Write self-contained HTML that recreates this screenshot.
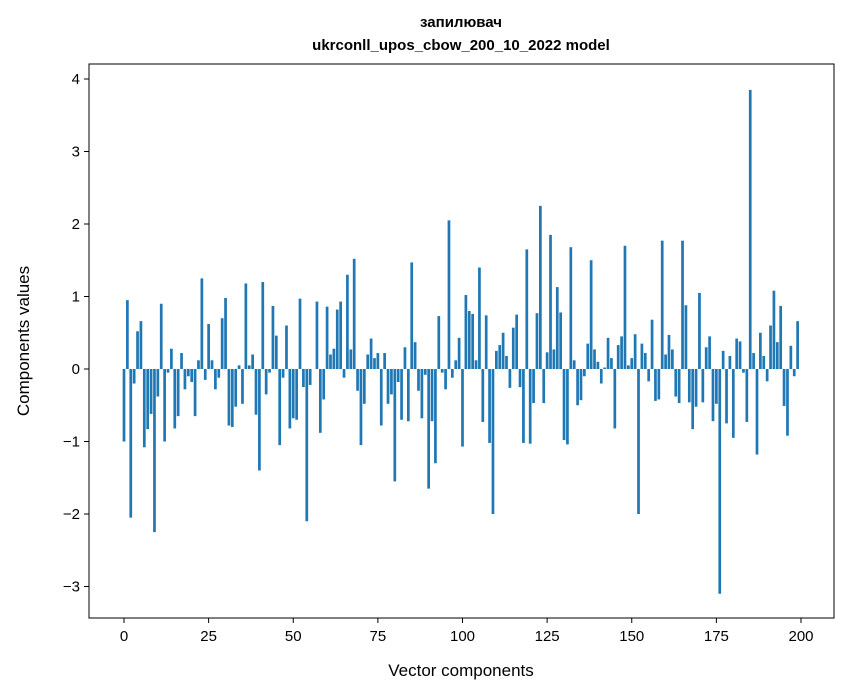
<!DOCTYPE html>
<html><head><meta charset="utf-8"><style>
body{margin:0;background:#fff}
svg{display:block;font-family:"Liberation Sans","DejaVu Sans",sans-serif}
</style></head><body>
<svg id="chart" width="847" height="696">
<text x="461" y="27" text-anchor="middle" font-size="15" font-weight="bold">запилювач</text>
<text x="461" y="50" text-anchor="middle" font-size="15" font-weight="bold">ukrconll_upos_cbow_200_10_2022 model</text>
<g id="bars"></g>
<rect x="89" y="64" width="745" height="554" fill="none" stroke="#000" stroke-width="1"/>
<g id="xt"></g>
<g id="yt"></g>
<text x="461" y="676" text-anchor="middle" font-size="17">Vector components</text>
<text transform="translate(29,341) rotate(-90)" text-anchor="middle" font-size="17">Components values</text>
</svg>
<script>
const values=[-1.0,0.95,-2.05,-0.2,0.52,0.66,-1.08,-0.83,-0.62,-2.25,-0.38,0.9,-1.0,-0.05,0.28,-0.82,-0.65,0.22,-0.28,-0.1,
-0.18,-0.65,0.12,1.25,-0.15,0.62,0.12,-0.28,-0.12,0.7,0.98,-0.78,-0.8,-0.52,0.05,-0.48,1.18,0.05,0.2,-0.63,
-1.4,1.2,-0.35,-0.05,0.87,0.46,-1.05,-0.12,0.6,-0.82,-0.68,-0.7,0.97,-0.25,-2.1,-0.22,0.0,0.93,-0.88,-0.42,
0.86,0.2,0.28,0.82,0.93,-0.12,1.3,0.27,1.52,-0.3,-1.05,-0.48,0.2,0.42,0.15,0.22,-0.78,0.22,-0.48,-0.35,
-1.55,-0.18,-0.7,0.3,-0.72,1.47,0.37,-0.3,-0.68,-0.08,-1.65,-0.72,-1.3,0.73,-0.05,-0.28,2.05,-0.12,0.12,0.43,
-1.07,1.02,0.8,0.76,0.12,1.4,-0.73,0.74,-1.02,-2.0,0.25,0.33,0.5,0.18,-0.26,0.57,0.75,-0.25,-1.02,1.65,
-1.03,-0.47,0.77,2.25,-0.47,0.23,1.85,0.27,1.13,0.78,-0.98,-1.04,1.68,0.12,-0.5,-0.43,-0.1,0.35,1.5,0.27,
0.1,-0.2,0.02,0.43,0.15,-0.82,0.33,0.45,1.7,0.05,0.15,0.48,-2.0,0.35,0.22,-0.17,0.68,-0.44,-0.42,1.77,
0.2,0.47,0.27,-0.38,-0.47,1.77,0.88,-0.46,-0.83,-0.52,1.05,-0.46,0.3,0.45,-0.72,-0.48,-3.1,0.25,-0.75,0.18,
-0.95,0.42,0.38,-0.05,-0.73,3.85,0.22,-1.18,0.5,0.18,-0.17,0.6,1.08,0.37,0.87,-0.51,-0.92,0.32,-0.1,0.66];
const xTicks=[0,25,50,75,100,125,150,175,200];
const yTicks=[-3,-2,-1,0,1,2,3,4];
const yLabels=["−3","−2","−1","0","1","2","3","4"];
const NS="http://www.w3.org/2000/svg";
function xs(v){return 124+v*(677/200);}
function ys(v){return 369-v*72.5;}
const bw=0.8*677/200;
const bars=document.getElementById('bars');
values.forEach((v,i)=>{
  const r=document.createElementNS(NS,'rect');
  
  
  r.setAttribute('x',xs(i)-bw/2);
  r.setAttribute('y',Math.min(ys(v),ys(0)));
  r.setAttribute('width',bw);
  r.setAttribute('height',Math.abs(ys(v)-ys(0)));
  r.setAttribute('fill','#1f77b4');
  bars.appendChild(r);
});
const xt=document.getElementById('xt');
xTicks.forEach(t=>{
  const l=document.createElementNS(NS,'line');
  
  
  l.setAttribute('x1',xs(t));l.setAttribute('x2',xs(t));l.setAttribute('y1',618);l.setAttribute('y2',623);l.setAttribute('stroke','#000');
  xt.appendChild(l);
  const s=document.createElementNS(NS,'text');
  
  
  s.setAttribute('x',xs(t));s.setAttribute('y',641);s.setAttribute('text-anchor','middle');s.setAttribute('font-size','15');
  s.textContent=t;xt.appendChild(s);
});
const yt=document.getElementById('yt');
yTicks.forEach((t,i)=>{
  const l=document.createElementNS(NS,'line');
  
  
  l.setAttribute('x1',84);l.setAttribute('x2',89);l.setAttribute('y1',ys(t));l.setAttribute('y2',ys(t));l.setAttribute('stroke','#000');
  yt.appendChild(l);
  const s=document.createElementNS(NS,'text');
  
  
  s.setAttribute('x',80);s.setAttribute('y',ys(t)+5);s.setAttribute('text-anchor','end');s.setAttribute('font-size','15');
  s.textContent=yLabels[i];yt.appendChild(s);
});
</script>
</body></html>
